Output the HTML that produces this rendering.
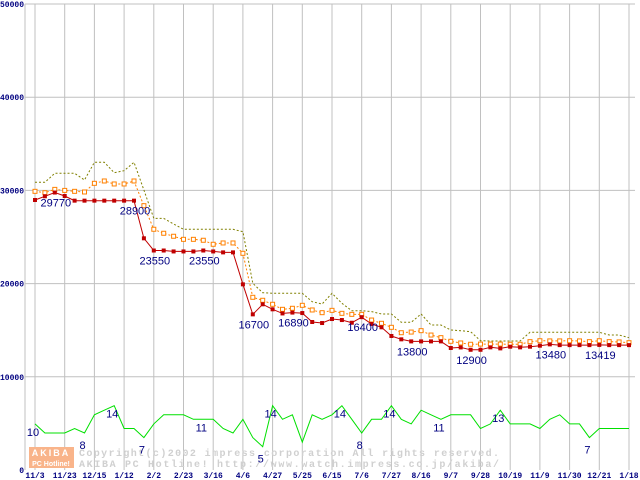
<!DOCTYPE html>
<html><head><meta charset="utf-8"><style>
body{margin:0;background:#fff;width:640px;height:480px;overflow:hidden}
svg{display:block}
</style></head><body>
<svg id="chart" width="640" height="480" xmlns="http://www.w3.org/2000/svg" font-family="Liberation Sans, sans-serif">
<g id="grid"></g>
<g id="ylabels"></g>
<g id="xlabels"></g>
<g>
<rect x="29" y="447" width="45" height="21" fill="#f9b48a"/>
<text x="51" y="456" font-size="9" font-weight="bold" fill="#fff" text-anchor="middle" letter-spacing="2">AKIBA</text>
<text x="51" y="466" font-size="7" font-weight="bold" fill="#fff" text-anchor="middle">PC Hotline!</text>
<text x="79" y="456" font-size="10" font-weight="bold" fill="#d0d0d0" font-family="Liberation Mono, monospace" textLength="420">Copyright(c)2002 impress corporation All rights reserved.</text>
<text x="79" y="467" font-size="10" font-weight="bold" fill="#d0d0d0" font-family="Liberation Mono, monospace" textLength="420">AKIBA PC Hotline!  http://www.watch.impress.co.jp/akiba/</text>
</g>
<g id="series"></g>
<g id="labels"></g>
</svg>
<script>
const xTicks=["11/3","11/23","12/15","1/12","2/2","2/23","3/16","4/6","4/27","5/25","6/15","7/6","7/27","8/16","9/7","9/28","10/19","11/9","11/30","12/21","1/18"];
const yTicks=[0,10000,20000,30000,40000,50000];
const minPrice=[28970,29370,29770,29400,28900,28900,28900,28900,28900,28900,28900,24860,23550,23550,23450,23450,23450,23550,23450,23350,23350,19920,16700,17780,17240,16800,16890,16840,15880,15770,16200,16090,15800,16400,15670,15310,14380,14020,13800,13800,13800,13800,13090,13150,12900,12900,13160,13050,13230,13160,13230,13340,13480,13400,13400,13400,13400,13419,13400,13400,13400];
const avgPrice=[29900,29750,30110,30000,29900,29830,30760,31010,30690,30690,31010,28360,25830,25400,25080,24750,24750,24650,24220,24360,24360,23250,18530,18210,17780,17240,17350,17670,17170,16880,17130,16810,16700,16700,16090,15740,15310,14730,14800,14950,14480,14200,13810,13630,13490,13510,13510,13510,13490,13490,13770,13870,13850,13850,13870,13850,13770,13870,13770,13740,13660];
const maxPrice=[30870,30870,31830,31830,31830,31120,33010,33010,31900,32110,33010,30040,27000,27000,26390,25830,25830,25830,25830,25830,25830,25570,20030,19020,18960,18960,18960,18960,18060,17810,18960,17890,17090,17090,17000,16740,16740,15850,15850,16740,15560,15560,15020,14950,14840,13870,13840,13840,13840,13840,14770,14770,14770,14770,14770,14770,14770,14770,14480,14480,14200];
const shopCount=[10,8,8,8,9,8,12,13,14,9,9,7,10,12,12,12,11,11,11,9,8,11,7,5,14,11,12,6,12,11,12,14,11,8,11,11,14,11,10,13,12,11,12,12,12,9,10,13,10,10,10,9,11,12,10,10,7,9,9,9,9];
const priceLabelIdx=[2,10,12,17,22,26,33,38,44,52,57];
const countLabelIdx=[0,5,8,11,17,23,24,31,33,36,41,47,56];

const NS="http://www.w3.org/2000/svg";
const L=25,R=635,T=4,B=470,X0=35,DX=9.9;
const xAt=i=>X0+DX*i;
const yP=v=>B-(v/50000)*(B-T);
const yC=v=>469.5-v*4.56;
function mk(tag,attrs,parent){const e=document.createElementNS(NS,tag);for(const k in attrs)e.setAttribute(k,attrs[k]);parent.appendChild(e);return e;}
const grid=document.getElementById('grid'),yl=document.getElementById('ylabels'),xl=document.getElementById('xlabels'),ser=document.getElementById('series'),lab=document.getElementById('labels');
yTicks.forEach(v=>{
 const y=yP(v);
 if(v>0){const l=mk('line',{x1:L,x2:R,y1:y,y2:y,stroke:'#c0c0c0','stroke-width':1},grid);
 
 }
 const t=mk('text',{x:24,y:y+3,'font-size':8,'font-weight':'bold',fill:'#000080','text-anchor':'end','font-family':'Liberation Mono, monospace'},yl);
 t.textContent=v;
 
 
});
const ax=mk('line',{x1:L,x2:L,y1:T,y2:B,stroke:'#c0c0c0','stroke-width':1},grid);


xTicks.forEach((s,k)=>{
 const x=xAt(k*3);
 const l=mk('line',{x1:x,x2:x,y1:T,y2:B,stroke:'#c0c0c0','stroke-width':1},grid);
 
 
 const t=mk('text',{x:x,y:478,'font-size':8,'font-weight':'bold',fill:'#000080','text-anchor':'middle','font-family':'Liberation Mono, monospace'},xl);
 t.textContent=s;
 
 
});
function pts(arr,yf){return arr.map((v,i)=>xAt(i).toFixed(1)+','+yf(v).toFixed(1)).join(' ');}
const gl=mk('polyline',{points:pts(shopCount,yC),fill:'none',stroke:'#00e000','stroke-width':1},ser);


const ml=mk('polyline',{points:pts(maxPrice,yP),fill:'none',stroke:'#808000','stroke-width':1,'stroke-dasharray':'2,2'},ser);


const al=mk('polyline',{points:pts(avgPrice,yP),fill:'none',stroke:'#ff8000','stroke-width':1,'stroke-dasharray':'2,2'},ser);


avgPrice.forEach((v,i)=>{const r=mk('rect',{x:xAt(i)-2,y:yP(v)-2,width:4,height:4,fill:'#fff',stroke:'#ff8000','stroke-width':1},ser);
 
 });
const rl=mk('polyline',{points:pts(minPrice,yP),fill:'none',stroke:'#c00000','stroke-width':1},ser);


minPrice.forEach((v,i)=>{const r=mk('rect',{x:xAt(i)-2,y:yP(v)-2,width:4,height:4,fill:'#c00000'},ser);
 
 });
priceLabelIdx.forEach(i=>{const t=mk('text',{x:xAt(i)+1,y:yP(minPrice[i])+14,'font-size':11,fill:'#000080','text-anchor':'middle'},lab);
 t.textContent=minPrice[i];
 
 });
countLabelIdx.forEach(i=>{const v=shopCount[i];const t=mk('text',{x:xAt(i)-2,y:yC(v)+(v>=13?12:(v<=8?16:12)),'font-size':11,fill:'#000080','text-anchor':'middle'},lab);
 t.textContent=v;
 
 });
</script>
</body></html>
